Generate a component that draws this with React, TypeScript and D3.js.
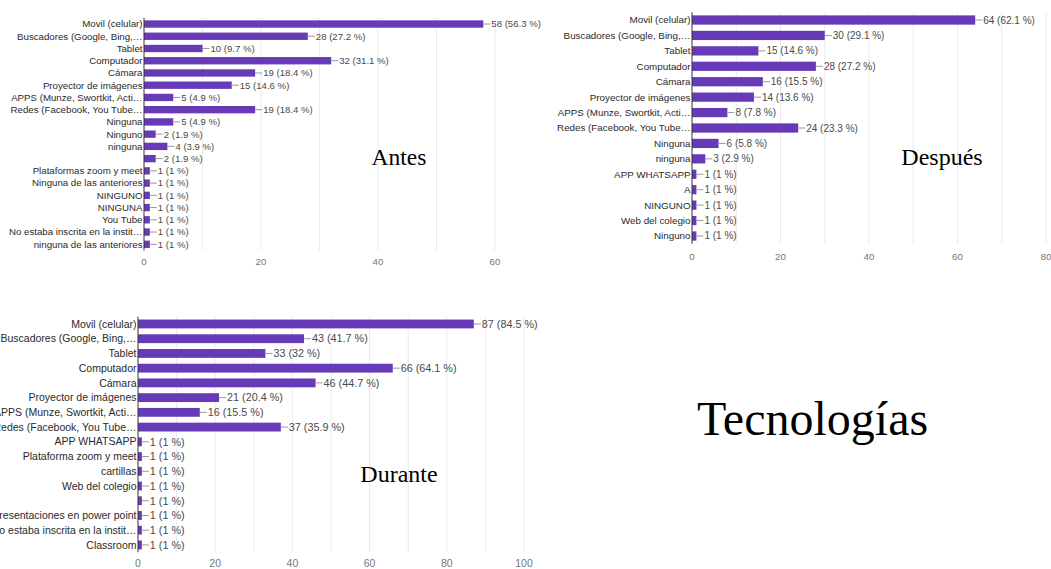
import React from "react";
import * as d3 from "d3";

const TOTAL = 103;

const antesLabels = [
  "Movil (celular)", "Buscadores (Google, Bing,…", "Tablet", "Computador", "Cámara",
  "Proyector de imágenes", "APPS (Munze, Swortkit, Acti…", "Redes (Facebook, You Tube…",
  "Ninguna", "Ninguno", "ninguna", "", "Plataformas zoom y meet", "Ninguna de las anteriores",
  "NINGUNO", "NINGUNA", "You Tube", "No estaba inscrita en la instit…", "ninguna de las anteriores",
];
const antesValues = [58, 28, 10, 32, 19, 15, 5, 19, 5, 2, 4, 2, 1, 1, 1, 1, 1, 1, 1];
const antesTicks = [0, 20, 40, 60];

const despuesLabels = [
  "Movil (celular)", "Buscadores (Google, Bing,…", "Tablet", "Computador", "Cámara",
  "Proyector de imágenes", "APPS (Munze, Swortkit, Acti…", "Redes (Facebook, You Tube…",
  "Ninguna", "ninguna", "APP WHATSAPP", "A", "NINGUNO", "Web del colegio", "Ninguno",
];
const despuesValues = [64, 30, 15, 28, 16, 14, 8, 24, 6, 3, 1, 1, 1, 1, 1];
const despuesTicks = [0, 20, 40, 60, 80];

const duranteLabels = [
  "Movil (celular)", "Buscadores (Google, Bing,…", "Tablet", "Computador", "Cámara",
  "Proyector de imágenes", "APPS (Munze, Swortkit, Acti…", "Redes (Facebook, You Tube…",
  "APP WHATSAPP", "Plataforma zoom y meet", "cartillas", "Web del colegio", "",
  "Presentaciones en power point", "No estaba inscrita en la instit…", "Classroom",
];
const duranteValues = [87, 43, 33, 66, 46, 21, 16, 37, 1, 1, 1, 1, 1, 1, 1, 1];
const duranteTicks = [0, 20, 40, 60, 80, 100];

const BAR = "#673ab7";
const SANS = "'Liberation Sans', Arial, sans-serif";
const SERIF = "'Liberation Serif', 'Times New Roman', serif";

function pct(v: number) {
  const p = Math.round((v / TOTAL) * 1000) / 10;
  return `${v} (${p % 1 === 0 ? p.toFixed(0) : p.toFixed(1)} %)`;
}

type ChartProps = {
  labels: string[];
  values: number[];
  ticks: number[];
  x0: number;
  x1: number;
  top: number;
  bottom: number;
  tickY: number;
  font: number;
  valFont: number;
};

function BarChart({ labels, values, ticks, x0, x1, top, bottom, tickY, font, valFont }: ChartProps) {
  const max = ticks[ticks.length - 1];
  const x = d3.scaleLinear().domain([0, max]).range([x0, x1]);
  const y = d3
    .scaleBand<number>()
    .domain(d3.range(labels.length))
    .range([top, bottom])
    .paddingInner(0.4)
    .paddingOuter(0.2);
  const grid = d3.range(10, max + 1, 10);
  return (
    <g>
      {grid.map((g) => (
        <line key={g} x1={x(g)} x2={x(g)} y1={top} y2={bottom} stroke="#ebebeb" strokeWidth={1} />
      ))}
      {values.map((v, i) => {
        const yy = y(i)!;
        const bw = y.bandwidth();
        const cy = yy + bw / 2;
        const xe = x(v);
        return (
          <g key={i}>
            <rect x={x(0)} y={yy} width={xe - x(0)} height={bw} fill={BAR} />
            <text x={x(0) - 1.5} y={cy} dy="0.35em" textAnchor="end" fontSize={font} fill="#2a2a2a" fontFamily={SANS}>
              {labels[i]}
            </text>
            <line x1={xe} x2={xe + 7} y1={cy} y2={cy} stroke="#999" strokeWidth={1} />
            <text x={xe + 8} y={cy} dy="0.35em" fontSize={valFont} fill="#4a4a4a" fontFamily={SANS}>
              {pct(v)}
            </text>
          </g>
        );
      })}
      <line x1={x(0)} x2={x(0)} y1={top} y2={bottom} stroke="#333" strokeWidth={1} />
      {ticks.map((t) => (
        <text key={t} x={x(t)} y={tickY} dy="0.35em" textAnchor="middle" fontSize={font} fill="#777" fontFamily={SANS}>
          {t}
        </text>
      ))}
    </g>
  );
}

export default function App() {
  return (
    <div style={{ position: "absolute", left: 0, top: 0, width: 1051, height: 569, background: "#fff" }}>
      <svg width={1051} height={569} style={{ display: "block", overflow: "hidden" }}>
        <rect width={1051} height={569} fill="#fff" />
        <BarChart labels={antesLabels} values={antesValues} ticks={antesTicks}
          x0={144} x1={495} top={17.9} bottom={250.4} tickY={262} font={9.7} valFont={9.6} />
        <BarChart labels={despuesLabels} values={despuesValues} ticks={despuesTicks}
          x0={692} x1={1046} top={12.3} bottom={243.7} tickY={257} font={9.8} valFont={10} />
        <BarChart labels={duranteLabels} values={duranteValues} ticks={duranteTicks}
          x0={138} x1={524} top={316.6} bottom={552.3} tickY={563} font={10.5} valFont={10.8} />
        <text x={399} y={165} textAnchor="middle" fontSize={23.5} fontFamily={SERIF} fill="#000">Antes</text>
        <text x={942} y={165} textAnchor="middle" fontSize={24} fontFamily={SERIF} fill="#000">Después</text>
        <text x={399} y={482} textAnchor="middle" fontSize={24} fontFamily={SERIF} fill="#000">Durante</text>
        <text x={812.5} y={435} textAnchor="middle" fontSize={48} fontFamily={SERIF} fill="#000">Tecnologías</text>
      </svg>
    </div>
  );
}
